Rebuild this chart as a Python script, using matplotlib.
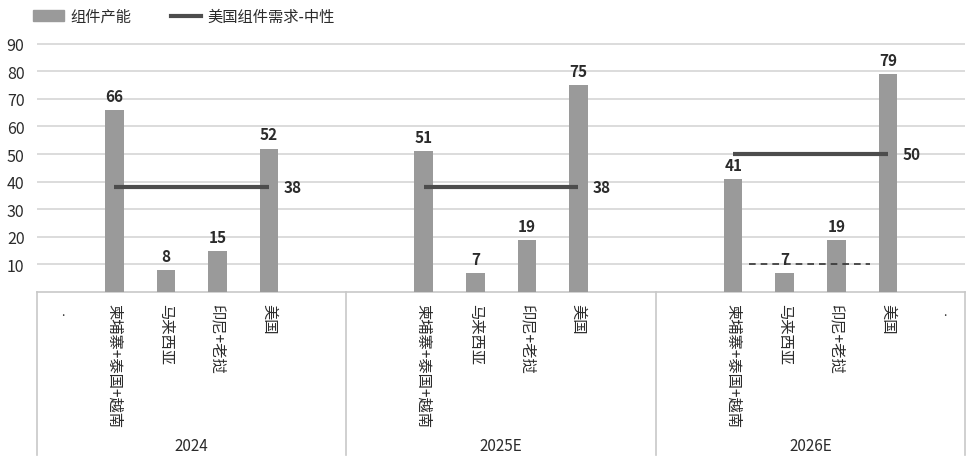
import matplotlib
matplotlib.use("Agg")
import matplotlib.pyplot as plt
from matplotlib.patches import Patch
from matplotlib.lines import Line2D
import numpy as np

plt.rcParams['font.family'] = ['Noto Sans CJK SC', 'DejaVu Sans']

years = ["2024", "2025E", "2026E"]
countries = ["柬埔寨+泰国+越南", "马来西亚", "印尼+老挝", "美国"]
capacity = [[66, 8, 15, 52], [51, 7, 19, 75], [41, 7, 19, 79]]
demand = [38, 38, 50]
edge_marks = [".", "", "", "", "", "."]  # first slot of group 1, last slot of group 3
dashed_level = 10  # faint dashed line in 2026E

bar_color = "#9a9a9a"
line_color = "#4d4d4d"
text_color = "#2b2b2b"

fig = plt.figure(figsize=(9.73, 4.64), dpi=100)
ax = fig.add_axes([0.038, 0.3685, 0.954, 0.565])

slots = 6
positions = []
for g, yr in enumerate(years):
    base = g * slots
    xs = [base + 1 + i for i in range(len(countries))]
    positions.append(xs)
    ax.bar(xs, capacity[g], width=0.36, color=bar_color, zorder=3)
    for x, v in zip(xs, capacity[g]):
        ax.text(x, v + 2.2, f"{v}", ha="center", va="bottom", fontsize=11,
                fontweight="bold", color=text_color, zorder=5)
    ax.plot([xs[0], xs[-1]], [demand[g], demand[g]], color=line_color, lw=3,
            solid_capstyle="butt", zorder=4)
    ax.text(xs[-1] + 0.28, demand[g], f"{demand[g]}", ha="left", va="center",
            fontsize=11, fontweight="bold", color=text_color, zorder=5)

# dashed line at 10 in 2026E
xs3 = positions[2]
ax.plot([xs3[0] + 0.3, xs3[-1] - 0.35], [dashed_level, dashed_level], color="#333333",
        lw=1.2, ls=(0, (4, 3)), zorder=4)

ax.set_xlim(-0.5, len(years) * slots - 0.5)
ax.set_ylim(0, 95)
ax.set_yticks(range(10, 100, 10))
ax.tick_params(axis="y", length=0, pad=9, labelsize=11.5, labelcolor=text_color)
for lbl in ax.get_yticklabels():
    lbl.set_fontweight("medium")
ax.set_xticks([])
for s in ["top", "right", "left"]:
    ax.spines[s].set_visible(False)
ax.spines["bottom"].set_color("#c8c8c8")
ax.spines["bottom"].set_linewidth(1.2)
ax.grid(axis="y", color="#d6d6d6", lw=1.2, zorder=0)
ax.set_axisbelow(True)

trans = ax.get_xaxis_transform()
# category box separators
for g in range(len(years) + 1):
    xsep = g * slots - 0.5
    ax.plot([xsep, xsep], [0, -0.62], transform=trans, color="#c8c8c8", lw=1.2,
            clip_on=False)
# country labels
for g, yr in enumerate(years):
    for x, c in zip(positions[g], countries):
        ax.text(x, -0.04, c, transform=trans, rotation=-90, ha="center", va="top",
                fontsize=11, fontweight="medium", color=text_color)
    ax.text(g * slots + 2.5, -0.585, yr, transform=trans, ha="center", va="center",
            fontsize=11, fontweight="medium", color=text_color)
# edge marks
ax.text(0, -0.05, edge_marks[0], transform=trans, ha="center", va="top", fontsize=9,
        color=text_color)
ax.text(len(years) * slots - 1 + 0.1, -0.05, edge_marks[-1], transform=trans, ha="center",
        va="top", fontsize=9, color=text_color)

handles = [Patch(color=bar_color, label="组件产能"),
           Line2D([0], [0], color=line_color, lw=3, label="美国组件需求-中性")]
fig.legend(handles=handles, loc="upper left", bbox_to_anchor=(0.02, 1.01), ncol=2,
           frameon=False, fontsize=11, handlelength=2.0, handleheight=0.7,
           columnspacing=2.6, handletextpad=0.4, labelcolor=text_color)

fig.savefig("out.png", dpi=100)
